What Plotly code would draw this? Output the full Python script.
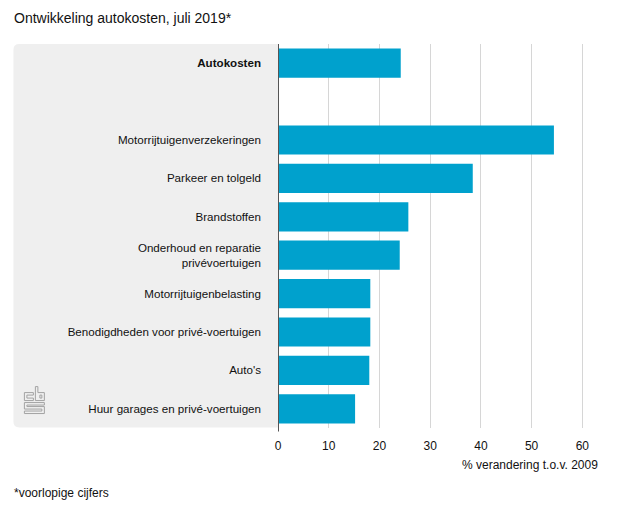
import plotly.graph_objects as go

categories = [
    "<b>Autokosten</b>",
    " ",
    "Motorrijtuigenverzekeringen",
    "Parkeer en tolgeld",
    "Brandstoffen",
    "Onderhoud en reparatie<br>privévoertuigen",
    "Motorrijtuigenbelasting",
    "Benodigdheden voor privé-voertuigen",
    "Auto's",
    "Huur garages en privé-voertuigen",
]
values = [24.2, None, 54.4, 38.4, 25.7, 24.0, 18.2, 18.2, 18.0, 15.2]
x_ticks = [0, 10, 20, 30, 40, 50, 60]

OFF = 8  # page body margin
W, H = 630 - OFF, 525 - OFF
PL, PR, PT, PB = 278, 595.5, 43.5, 428.5
L = PL - OFF
T = PT - OFF
R = W - (PR - OFF)
B = H - (PB - OFF)

FONT = "Liberation Sans, Arial, Helvetica, sans-serif"
fig = go.Figure()
fig.add_trace(go.Bar(
    y=categories, x=values, orientation="h",
    marker=dict(color="#00a1cd", line=dict(width=0)),
    width=0.76, hoverinfo="x+y",
))

pw = W - L - R
ph = H - T - B
def to_paper_x(px):
    return (px - OFF - L) / pw
def to_paper_y(py):
    return (H - B - (py - OFF)) / ph

def pth(points, close=False):
    s = " ".join(("M" if i == 0 else "L") + f" {to_paper_x(a)},{to_paper_y(b)}"
                 for i, (a, b) in enumerate(points))
    return s + (" Z" if close else "")

x0, x1, y0, y1, r = 13, 278, 43.5, 428, 6
path = (f"M {to_paper_x(x0 + r)},{to_paper_y(y0)} L {to_paper_x(x1)},{to_paper_y(y0)} "
        f"L {to_paper_x(x1)},{to_paper_y(y1)} L {to_paper_x(x0 + r)},{to_paper_y(y1)} "
        f"Q {to_paper_x(x0)},{to_paper_y(y1)} {to_paper_x(x0)},{to_paper_y(y1 - r)} "
        f"L {to_paper_x(x0)},{to_paper_y(y0 + r)} "
        f"Q {to_paper_x(x0)},{to_paper_y(y0)} {to_paper_x(x0 + r)},{to_paper_y(y0)} Z")
shapes = [dict(type="path", path=path, xref="paper", yref="paper",
               fillcolor="#efefef", line=dict(width=0), layer="below")]

shapes.append(dict(type="line", xref="x", yref="paper", x0=0, x1=0,
                   y0=to_paper_y(432), y1=1, line=dict(color="#555555", width=2)))

# cbs logo (outline drawing)
lg = "#a3a3a3"
logo_paths = [
    pth([(33, 393), (24, 393), (24, 401), (33, 401), (33, 398.5), (26.5, 398.5),
         (26.5, 395.5), (33, 395.5)], close=True),
    pth([(35, 387), (37.5, 387), (37.5, 393), (44, 393), (44, 401), (35, 401)], close=True),
    pth([(39.5, 395.5), (41.5, 395.5), (41.5, 398.5), (39.5, 398.5)], close=True),
    pth([(44, 403), (24, 403), (24, 409.5), (41.5, 409.5), (41.5, 411.5), (24, 411.5),
         (24, 414), (44, 414), (44, 407), (26.5, 407), (26.5, 405.5), (44, 405.5)], close=True),
]
for p in logo_paths:
    shapes.append(dict(type="path", path=p, xref="paper", yref="paper",
                       line=dict(color=lg, width=1), fillcolor="rgba(0,0,0,0)"))

fig.update_layout(
    width=W, height=H,
    margin=dict(l=L, r=R, t=T, b=B, autoexpand=False),
    paper_bgcolor="white", plot_bgcolor="rgba(0,0,0,0)",
    font=dict(family=FONT, size=12, color="#111111"),
    showlegend=False,
    bargap=0.24,
    shapes=shapes,
    xaxis=dict(
        range=[0, 62.5], tickvals=x_ticks, showgrid=True,
        gridcolor="#d6d6d6", gridwidth=1, zeroline=False,
        showline=False, ticks="", ticklabelstandoff=9,
        tickfont=dict(size=12, color="#111111"),
        fixedrange=True,
    ),
    yaxis=dict(
        type="category", categoryorder="array", categoryarray=categories,
        autorange="reversed", showgrid=False, zeroline=False, showline=False,
        ticks="", ticklabelstandoff=16,
        tickfont=dict(size=11.6, color="#111111"),
        fixedrange=True,
    ),
    annotations=[
        dict(text="Ontwikkeling autokosten, juli 2019*", xref="paper", yref="paper",
             x=to_paper_x(12), y=to_paper_y(17), xanchor="left", yanchor="middle",
             showarrow=False, font=dict(size=14, color="#111111")),
        dict(text="% verandering t.o.v. 2009", xref="paper", yref="paper",
             x=to_paper_x(601), y=to_paper_y(466), xanchor="right", yanchor="middle",
             showarrow=False, font=dict(size=12, color="#111111")),
        dict(text="*voorlopige cijfers", xref="paper", yref="paper",
             x=to_paper_x(12), y=to_paper_y(494), xanchor="left", yanchor="middle",
             showarrow=False, font=dict(size=12, color="#111111")),
    ],
)

fig.write_html("out.html")
